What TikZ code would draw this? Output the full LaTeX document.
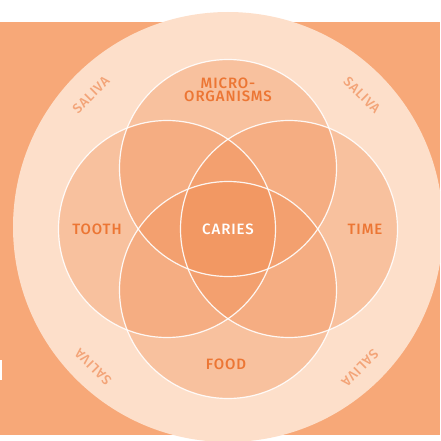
\documentclass[tikz,border=0pt]{standalone}
\usepackage{fontspec}
\setmainfont{Fira Sans}
\newfontfamily\lblfont[UprightFont=* Medium, LetterSpace=6]{Fira Sans}
\definecolor{bgor}{RGB}{247,168,120}
\definecolor{peach}{RGB}{253,223,202}
\definecolor{petal}{RGB}{241,138,78}
\definecolor{labelor}{RGB}{236,118,52}
\definecolor{salivaor}{RGB}{243,164,120}
\tikzset{
  lbl/.style={text=labelor, font=\lblfont\fontsize{15}{16}\selectfont, inner sep=0pt, align=center},
  sal/.style={text=salivaor, font=\lblfont\fontsize{13.5}{14}\selectfont, inner sep=0pt},
  petalfill/.style={fill=petal, fill opacity=0.35, draw=none},
  petalline/.style={draw=white, draw opacity=0.9, line width=1.2pt},
}
\begin{document}
\begin{tikzpicture}[x=1pt,y=-1pt]
\useasboundingbox (0,0) rectangle (440,441);
\begin{scope}
\clip (0,0) rectangle (440,441);
\fill[bgor] (0,22) rectangle (440,435);
\fill[white] (0,360) rectangle (2,380);
\fill[peach] (228,227) circle[radius=215];
\end{scope}
% petals
\coordinate (cT) at (228,168);
\coordinate (cL) at (167,229);
\coordinate (cR) at (289,229);
\coordinate (cB) at (228,290);
\foreach \c in {cT,cL,cR,cB}{
  \fill[petalfill] (\c) circle[radius=108.5];
}
\foreach \c in {cT,cL,cR,cB}{
  \draw[petalline] (\c) circle[radius=108.5];
}
% labels
\node[lbl] (micro) at (228,90) {MICRO-\\[-3pt]ORGANISMS};
\node[lbl] (tooth) at (97,229) {TOOTH};
\node[lbl] (time) at (365,229) {TIME};
\node[lbl] (food) at (226,364) {FOOD};
\node[lbl, text=white] (caries) at (228,229) {CARIES};
% saliva
\node[sal, rotate=45] (s1) at (91,95) {SALIVA};
\node[sal, rotate=-45] (s2) at (362,95) {SALIVA};
\node[sal, rotate=135] (s3) at (93,367) {SALIVA};
\node[sal, rotate=-135] (s4) at (360,368) {SALIVA};
\end{tikzpicture}
\end{document}
